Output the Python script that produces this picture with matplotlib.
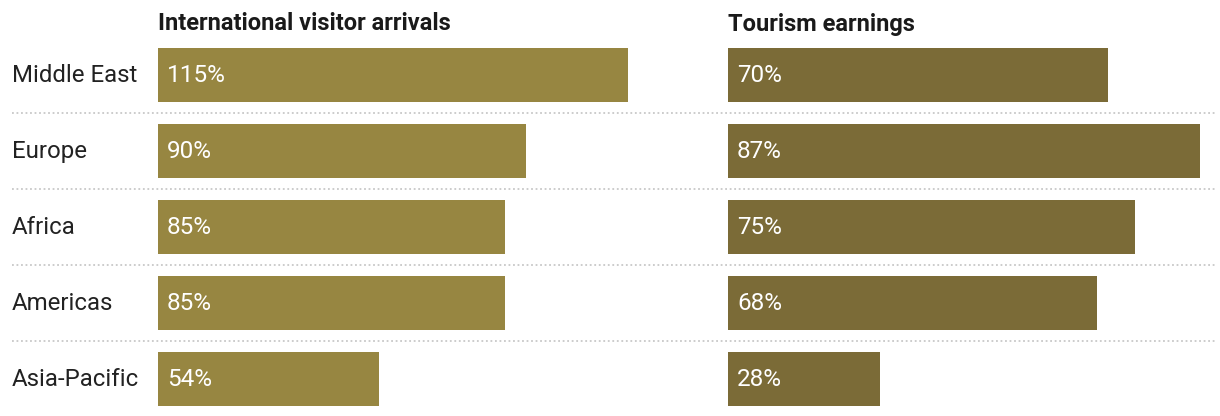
import matplotlib
matplotlib.use("Agg")
import matplotlib.pyplot as plt

plt.rcParams['font.family'] = ['Roboto', 'DejaVu Sans']

regions = ["Middle East", "Europe", "Africa", "Americas", "Asia-Pacific"]
arrivals = [115, 90, 85, 85, 54]
earnings = [70, 87, 75, 68, 28]
titles = ["International visitor arrivals", "Tourism earnings"]

W, H = 1220, 416
fig = plt.figure(figsize=(W / 100, H / 100), dpi=100)

def box(x0, x1, y0, y1):
    # pixel box -> figure fraction
    return [x0 / W, 1 - y1 / H, (x1 - x0) / W, (y1 - y0) / H]

n = len(regions)

# background axes for the row labels and dotted separators
bg = fig.add_axes(box(0, W, 37, 417))
bg.set_xlim(0, W)
bg.set_ylim(n - 0.5, -0.5)
bg.axis("off")
for i in range(n - 1):
    bg.plot([12, W - 4], [i + 0.5, i + 0.5], color="#c8c8c8", lw=1.3,
            linestyle=(0, (1, 1.5)))
for i, r in enumerate(regions):
    bg.text(12, i, r, ha="left", va="center", fontsize=17.3, color="#222222")

panels = [
    (arrivals, 158, 628, "#978641"),
    (earnings, 728, 1200, "#7b6b37"),
]
for (vals, x0, x1, col), title in zip(panels, titles):
    ax = fig.add_axes(box(x0, x1, 37, 417))
    ax.barh(range(n), vals, height=0.71, color=col)
    ax.set_xlim(0, max(vals))
    ax.set_ylim(n - 0.5, -0.5)
    ax.axis("off")
    for i, v in enumerate(vals):
        ax.text(9 / (x1 - x0) * max(vals), i, f"{v}%", ha="left", va="center",
                fontsize=17.5, color="white")
    fig.text(x0 / W, 1 - 24 / H, title, ha="left", va="center",
             fontsize=17, fontweight="bold", color="#1a1a1a")

fig.savefig("out.png", dpi=100)
